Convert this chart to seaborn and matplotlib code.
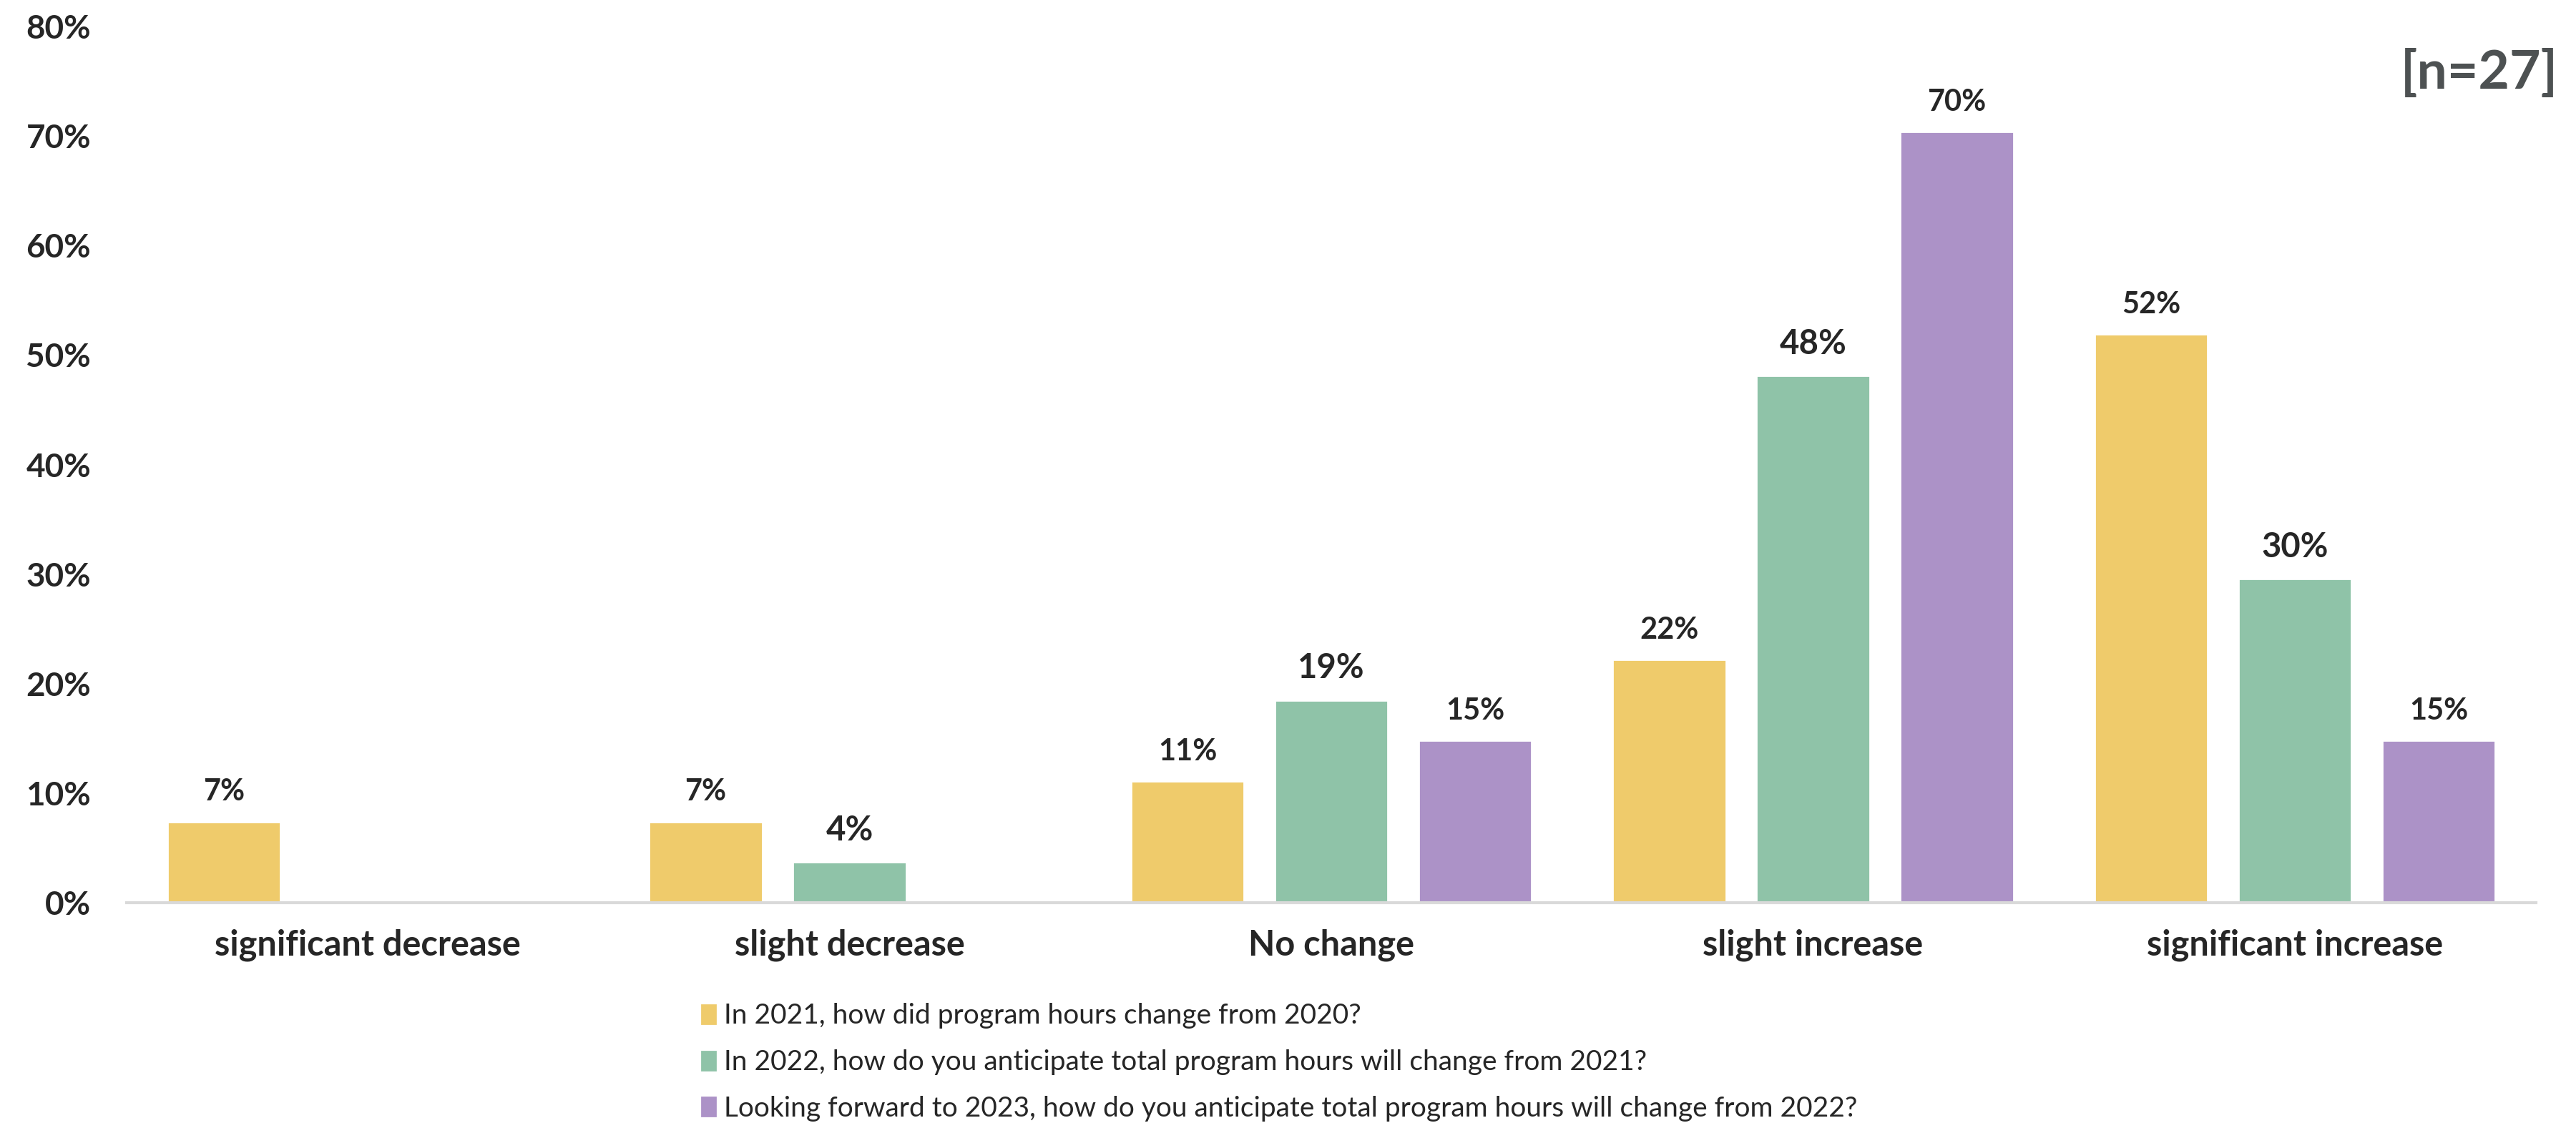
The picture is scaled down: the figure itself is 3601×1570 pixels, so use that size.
"""Grouped bar chart: change in program hours, 2021-2023."""

import matplotlib
matplotlib.use("Agg")
import matplotlib.pyplot as plt
import pandas as pd
import seaborn as sns

categories = ["significant decrease", "slight decrease", "No change",
              "slight increase", "significant increase"]
series_names = [
    "In 2021, how did program hours change from 2020?",
    "In 2022, how do you anticipate total program hours will change from 2021?",
    "Looking forward to 2023, how do you anticipate total program hours will change from 2022?",
]
# share of respondents (%), 0 = no bar / no label
hours_2021 = [7.4, 7.4, 11.1, 22.2, 51.9]
hours_2022 = [0, 3.7, 18.5, 48.1, 29.6]
hours_2023 = [0, 0, 14.8, 70.4, 14.8]
yticks = [0, 10, 20, 30, 40, 50, 60, 70, 80]

colors = ["#EFCB6B", "#8FC3A8", "#AC92C7"]
label_sizes = [15, 17, 15]

sns.set_style("white")
plt.rcParams["font.family"] = ["Lato", "DejaVu Sans"]

rows = []
for name, vals in zip(series_names, [hours_2021, hours_2022, hours_2023]):
    for cat, v in zip(categories, vals):
        rows.append({"category": cat, "series": name, "value": v})
df = pd.DataFrame(rows)

fig = plt.figure(figsize=(18.005, 7.85), dpi=200)
ax = fig.add_axes([0.0492, 0.1962, 0.9352, 0.7802])

sns.barplot(data=df, x="category", y="value", hue="series", order=categories,
            hue_order=series_names, palette=colors, width=0.895, gap=0.21,
            saturation=1, ax=ax, legend=False)

for cont, vals, fs in zip(ax.containers, [hours_2021, hours_2022, hours_2023], label_sizes):
    labels = ["" if v == 0 else f"{int(v + 0.5)}%" for v in vals]
    ax.bar_label(cont, labels=labels, padding=8, fontsize=fs, fontweight="bold")

ax.set_ylim(0, 80)
ax.set_xlim(-0.5, len(categories) - 0.5)
ax.set_yticks(yticks)
ax.set_yticklabels([f"{t}%" for t in yticks], fontsize=16.5, fontweight="bold")
ax.tick_params(axis="y", length=0, pad=18)
ax.tick_params(axis="x", length=0, pad=13, labelsize=17.5)
for lbl in ax.get_xticklabels():
    lbl.set_fontweight("bold")
ax.set_xlabel("")
ax.set_ylabel("")
sns.despine(ax=ax, left=True)
ax.spines["bottom"].set_color("#D9D9D9")
ax.spines["bottom"].set_linewidth(1.5)

handles = [plt.Rectangle((0, 0), 1, 1, color=c) for c in colors]
ax.legend(handles, series_names, loc="upper left", bbox_to_anchor=(0.268, 0.1166),
          bbox_transform=fig.transFigure, frameon=False, fontsize=14,
          handlelength=0.5, handleheight=0.65, handletextpad=0.3,
          labelspacing=0.74, borderaxespad=0)

fig.text(0.993, 0.935, "[n=27]", ha="right", va="center", fontsize=27,
         fontweight="bold", color="#4D5152")

fig.savefig("out.png", dpi=200)
plt.close(fig)
